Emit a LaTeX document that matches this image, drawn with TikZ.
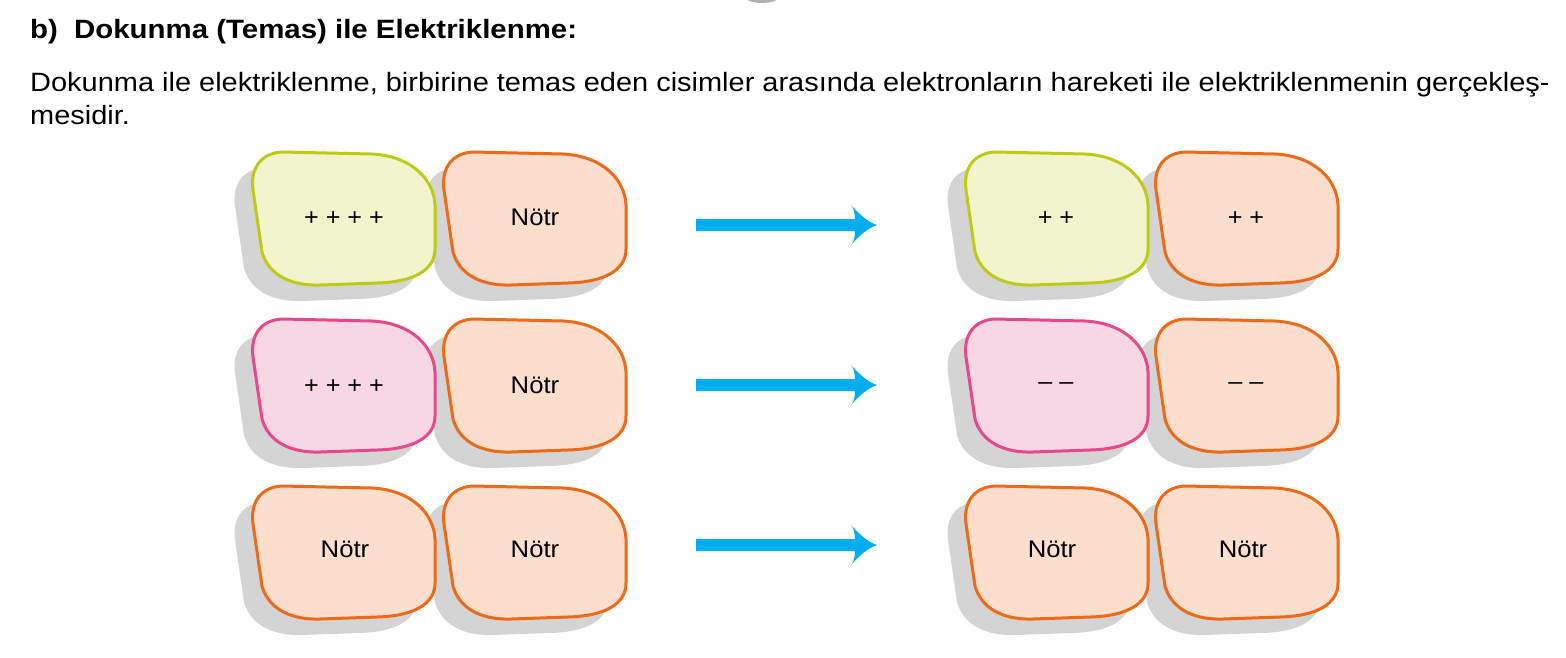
\documentclass[tikz,border=0pt]{standalone}
\usepackage{graphicx}
\usepackage{fontspec}
\setmainfont{Liberation Sans}
\definecolor{yfill}{HTML}{F1F4CC}
\definecolor{ydraw}{HTML}{BDCB17}
\definecolor{ofill}{HTML}{FBDFCC}
\definecolor{odraw}{HTML}{EC6A1A}
\definecolor{pfill}{HTML}{F8D7E4}
\definecolor{pdraw}{HTML}{E6488B}
\definecolor{shade}{HTML}{D4D4D4}
\definecolor{arrowblue}{HTML}{00AEEF}
\newcommand\xwide[2]{\scalebox{#1}[1]{#2}}
\tikzset{
  blobpath/.pic={\path[pic actions] (30,0) -- (120,2) .. controls (160,4) and (182,28) .. (183,53) -- (183,97) .. controls (183,118) and (162,130) .. (125,131) -- (68,133) .. controls (32,134) and (15,118) .. (10,100) -- (1,38) .. controls (-2,15) and (10,1) .. (30,0) -- cycle;},
  bigarrow/.pic={\fill[arrowblue] (0,-6) -- (159,-6) .. controls (159,-13) and (157,-18) .. (155,-20) .. controls (164,-10) and (172,-3) .. (181,0) .. controls (172,3) and (164,10) .. (155,20) .. controls (157,18) and (159,13) .. (159,6) -- (0,6) -- cycle;},
  shadowblob/.style={fill=shade},
  yblob/.style={fill=yfill,draw=ydraw,line width=3pt},
  oblob/.style={fill=ofill,draw=odraw,line width=3pt},
  pblob/.style={fill=pfill,draw=pdraw,line width=3pt},
  lbl/.style={font=\fontsize{24}{28}\selectfont, anchor=base, inner sep=0pt},
  bodytext/.style={font=\fontsize{26.5}{30}\selectfont, anchor=base west, inner sep=0pt},
  titletext/.style={font=\fontsize{26.5}{30}\selectfont\bfseries, anchor=base west, inner sep=0pt}
}
\begin{document}
\begin{tikzpicture}[x=1pt,y=-1pt]
\useasboundingbox (0,0) rectangle (1566,657);
% top fragment
\fill[gray!60] (743,-3) .. controls (750,5) and (774,5) .. (781,-3) -- cycle;
% texts
\node[titletext] (title) at (30,38) {\xwide{1.11}{b)\hspace{0.55em}Dokunma (Temas) ile Elektriklenme:}};
\node[bodytext] (line1) at (30,91) {\xwide{1.093}{Dokunma ile elektriklenme, birbirine temas eden cisimler arasında elektronların hareketi ile elektriklenmenin gerçekleş-}};
\node[bodytext] (line2) at (30,124) {\xwide{1.093}{mesidir.}};
% shadows
\foreach \y in {152,319,486}{
  \foreach \x in {252,443,965,1155}{
    \pic[shadowblob] at (\x-18,\y+16) {blobpath};
  }
}
% row 1
\pic[yblob] at (252,152) {blobpath};
\pic[oblob] at (443,152) {blobpath};
\pic[yblob] at (965,152) {blobpath};
\pic[oblob] at (1155,152) {blobpath};
% row 2
\pic[pblob] at (252,319) {blobpath};
\pic[oblob] at (443,319) {blobpath};
\pic[pblob] at (965,319) {blobpath};
\pic[oblob] at (1155,319) {blobpath};
% row 3
\pic[oblob] at (252,486) {blobpath};
\pic[oblob] at (443,486) {blobpath};
\pic[oblob] at (965,486) {blobpath};
\pic[oblob] at (1155,486) {blobpath};
% labels
\node[lbl] (a1) at (344,225) {\xwide{1.05}{+ + + +}};
\node[lbl] (b1) at (535,225) {\xwide{1.07}{Nötr}};
\node[lbl] (c1) at (1056,225) {\xwide{1.05}{+ +}};
\node[lbl] (d1) at (1246,225) {\xwide{1.05}{+ +}};
\node[lbl] (a2) at (344,393) {\xwide{1.05}{+ + + +}};
\node[lbl] (b2) at (535,393) {\xwide{1.07}{Nötr}};
\node[lbl] (c2) at (1056,389) {\xwide{1.05}{– –}};
\node[lbl] (d2) at (1246,389) {\xwide{1.05}{– –}};
\node[lbl] (a3) at (345,557) {\xwide{1.07}{Nötr}};
\node[lbl] (b3) at (535,557) {\xwide{1.07}{Nötr}};
\node[lbl] (c3) at (1052,557) {\xwide{1.07}{Nötr}};
\node[lbl] (d3) at (1243,557) {\xwide{1.07}{Nötr}};
% arrows
\pic at (696,225) {bigarrow};
\pic at (696,385) {bigarrow};
\pic at (696,545) {bigarrow};
\end{tikzpicture}
\end{document}
